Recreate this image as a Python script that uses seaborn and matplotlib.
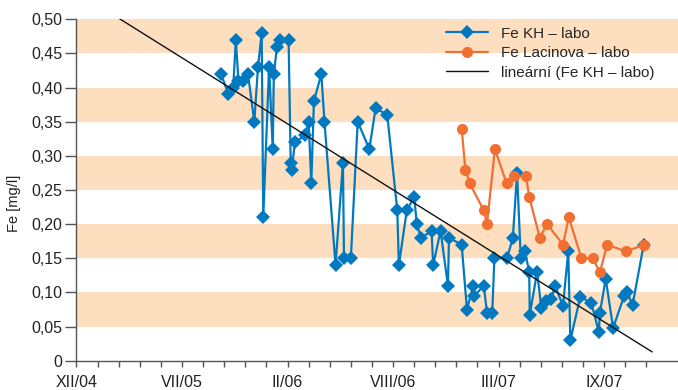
import matplotlib
matplotlib.use("Agg")
import matplotlib.pyplot as plt
import matplotlib.dates as mdates
from matplotlib.ticker import FixedLocator, FuncFormatter
import numpy as np
import pandas as pd
import seaborn as sns

# sampling days counted from 31.12.2004
BASE = pd.Timestamp("2004-12-31")

kh_day = [274, 288, 297, 302, 307, 316, 325, 337, 344, 351, 354, 365, 372, 374,
          380, 386, 402, 406, 408, 414, 433, 440, 445, 450, 464, 470, 491, 505,
          507, 520, 533, 555, 567, 589, 608, 611, 626, 640, 645, 653, 673, 676,
          690, 704, 706, 730, 740, 752, 754, 772, 778, 788, 792, 816, 827, 835,
          842, 850, 858, 859, 873, 881, 890, 900, 907, 922, 932, 936, 955, 976,
          990, 992, 1003, 1017, 1038, 1043, 1054, 1075]
kh_fe = [0.42, 0.39, 0.40, 0.47, 0.41, 0.41, 0.42, 0.35, 0.43, 0.48, 0.21, 0.43,
         0.31, 0.42, 0.46, 0.47, 0.47, 0.29, 0.28, 0.32, 0.33, 0.35, 0.26, 0.38,
         0.42, 0.35, 0.14, 0.29, 0.15, 0.15, 0.35, 0.31, 0.37, 0.36, 0.22, 0.14,
         0.22, 0.24, 0.20, 0.18, 0.19, 0.14, 0.19, 0.11, 0.18, 0.17, 0.075, 0.11,
         0.095, 0.11, 0.07, 0.07, 0.15, 0.15, 0.18, 0.275, 0.15, 0.16, 0.13, 0.067,
         0.13, 0.077, 0.087, 0.09, 0.11, 0.08, 0.16, 0.03, 0.094, 0.084, 0.042,
         0.07, 0.12, 0.048, 0.095, 0.10, 0.082, 0.17]

lac_day = [730, 737, 745, 772, 778, 793, 815, 829, 852, 858, 878, 892, 922, 933,
           957, 978, 992, 1006, 1041, 1076]
lac_fe = [0.34, 0.28, 0.26, 0.22, 0.20, 0.31, 0.26, 0.27, 0.27, 0.24, 0.18, 0.20,
          0.17, 0.21, 0.15, 0.15, 0.13, 0.17, 0.16, 0.17]

x_tick_labels = ["XII/04", "VII/05", "II/06", "VIII/06", "III/07", "IX/07"]
labels = ["Fe KH – labo", "Fe Lacinova – labo", "lineární (Fe KH – labo)"]

BLUE = "#0079C1"
ORANGE = "#F26F32"
BAND = "#FDDFC0"
AXIS = "#555555"
TEXT = "#222222"

sns.set_theme(style="white")
plt.rcParams["font.family"] = ["Liberation Sans", "DejaVu Sans"]


def to_date(days):
    return BASE + pd.to_timedelta(np.asarray(days), unit="D")


kh = pd.DataFrame({"date": to_date(kh_day), "fe": kh_fe})
lac = pd.DataFrame({"date": to_date(lac_day), "fe": lac_fe})

# linear trend of the KH series, extended as in the spreadsheet
coef = np.polyfit(kh_day, kh_fe, 1)
trend_day = np.array([0, 1091])
trend = pd.DataFrame({"date": to_date(trend_day), "fe": np.polyval(coef, trend_day)})

fig = plt.figure(figsize=(6.78, 3.9), dpi=100)
ax = fig.add_axes([0.1128, 0.0751, 0.8872, 0.8754])

for lo in np.arange(0.05, 0.5, 0.10):
    ax.axhspan(lo, lo + 0.05, color=BAND, lw=0, zorder=0)

sns.lineplot(data=kh, x="date", y="fe", sort=False, estimator=None, ax=ax,
             color=BLUE, lw=1.6, marker="D", markersize=7,
             markeredgecolor=BLUE, markeredgewidth=0, label=labels[0], zorder=2)
sns.lineplot(data=lac, x="date", y="fe", sort=False, estimator=None, ax=ax,
             color=ORANGE, lw=1.6, marker="o", markersize=8,
             markeredgecolor=ORANGE, markeredgewidth=0, label=labels[1], zorder=3)
sns.lineplot(data=trend, x="date", y="fe", sort=False, estimator=None, ax=ax,
             color="#111111", lw=1.0, label=labels[2], zorder=4)

ax.set_xlim(mdates.date2num(BASE), mdates.date2num(to_date([1140])[0]))
ax.set_ylim(0, 0.5)

major = [mdates.date2num(d) for d in to_date(np.arange(len(x_tick_labels)) * 200)]
minor = [mdates.date2num(d) for d in to_date(np.arange(0, 1081, 40))]
ax.xaxis.set_major_locator(FixedLocator(major))
ax.xaxis.set_minor_locator(FixedLocator(minor))
ax.set_xticklabels(x_tick_labels)
ax.set_yticks(np.arange(0, 0.501, 0.05))
ax.yaxis.set_major_formatter(FuncFormatter(
    lambda v, _: "0" if abs(v) < 1e-9 else f"{v:.2f}".replace(".", ",")))

for side in ("top", "right"):
    ax.spines[side].set_visible(False)
for side in ("left", "bottom"):
    ax.spines[side].set_color(AXIS)
    ax.spines[side].set_linewidth(1.0)

ax.tick_params(axis="y", direction="out", length=8, width=1, color=AXIS,
               labelsize=11.5, labelcolor=TEXT, pad=2, left=True)
ax.tick_params(axis="x", which="both", direction="out", length=4.5, width=1,
               color=AXIS, labelsize=11.5, labelcolor=TEXT, pad=6, bottom=True)

ax.set_xlabel("")
ax.set_ylabel("Fe [mg/l]", fontsize=10.5, color=TEXT)
ax.yaxis.set_label_coords(-0.092, 0.46)

ax.legend(loc="upper left", bbox_to_anchor=(0.615, 0.978), frameon=False,
          fontsize=11, handlelength=2.75, handletextpad=0.8, labelspacing=0.36,
          borderaxespad=0, borderpad=0)

fig.savefig("out.png", dpi=100)
plt.close(fig)
